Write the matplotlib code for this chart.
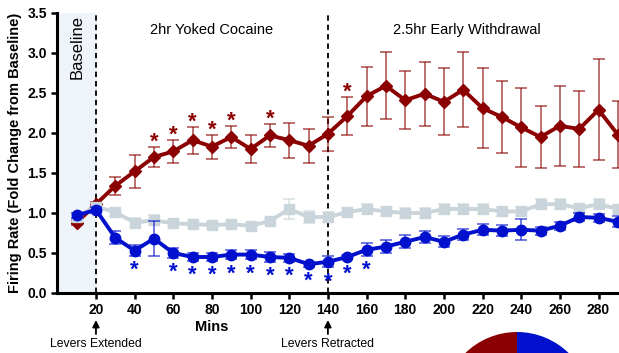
import numpy as np
import matplotlib
matplotlib.use("Agg")
import matplotlib.pyplot as plt
from matplotlib.patches import Wedge
from matplotlib.transforms import blended_transform_factory

plt.rcParams["font.family"] = ["Liberation Sans", "DejaVu Sans"]

# ---- data ----
mins = [10, 20, 30, 40, 50, 60, 70, 80, 90, 100, 110, 120, 130, 140, 150,
        160, 170, 180, 190, 200, 210, 220, 230, 240, 250, 260, 270, 280, 290]

red_mean = [0.88, 1.11, 1.34, 1.52, 1.70, 1.77, 1.91, 1.83, 1.95, 1.80, 1.97, 1.91, 1.84, 1.99, 2.21,
            2.46, 2.59, 2.41, 2.49, 2.39, 2.54, 2.31, 2.20, 2.07, 1.95, 2.09, 2.05, 2.29, 1.98]
red_sem = [0.03, 0.03, 0.11, 0.21, 0.13, 0.14, 0.17, 0.15, 0.14, 0.18, 0.14, 0.22, 0.21, 0.21, 0.24,
           0.37, 0.42, 0.36, 0.40, 0.42, 0.47, 0.50, 0.45, 0.49, 0.39, 0.50, 0.47, 0.63, 0.42]

grey_mean = [0.95, 1.08, 1.01, 0.88, 0.91, 0.87, 0.86, 0.85, 0.86, 0.84, 0.90, 1.05, 0.95, 0.95, 1.01,
             1.05, 1.02, 1.00, 1.00, 1.05, 1.05, 1.05, 1.02, 1.02, 1.11, 1.11, 1.06, 1.11, 1.05]
grey_sem = [0.03, 0.04, 0.05, 0.06, 0.06, 0.04, 0.04, 0.04, 0.04, 0.04, 0.04, 0.13, 0.08, 0.06, 0.05,
            0.06, 0.06, 0.06, 0.06, 0.06, 0.06, 0.06, 0.06, 0.06, 0.06, 0.06, 0.05, 0.06, 0.05]

blue_mean = [0.97, 1.04, 0.69, 0.53, 0.68, 0.50, 0.45, 0.45, 0.48, 0.48, 0.45, 0.44, 0.36, 0.39, 0.45,
             0.54, 0.58, 0.64, 0.70, 0.64, 0.73, 0.79, 0.78, 0.79, 0.78, 0.84, 0.95, 0.94, 0.89]
blue_sem = [0.03, 0.04, 0.08, 0.07, 0.22, 0.06, 0.05, 0.05, 0.06, 0.06, 0.06, 0.05, 0.03, 0.07, 0.03,
            0.08, 0.08, 0.08, 0.08, 0.07, 0.07, 0.07, 0.07, 0.13, 0.05, 0.05, 0.05, 0.05, 0.07]

red_sig = [50, 60, 70, 80, 90, 110, 150]
blue_sig = [40, 60, 70, 80, 90, 100, 110, 120, 130, 140, 150, 160]

RED = "#8b0000"
BLUE = "#0010cc"
GREY = "#c9d5da"

fig = plt.figure(figsize=(6.19, 3.53), dpi=100)
ax = fig.add_axes([57.3 / 619, 60 / 353, 1 - 57.3 / 619, 280 / 353])

ax.axvspan(0, 20, color="#eef4fa", zorder=0)
for xv in (20, 140):
    ax.axvline(xv, color="black", lw=1.3, ls=(0, (3, 2.2)), zorder=1)

series = [
    (red_mean, red_sem, RED, "D", 6.5),
    (grey_mean, grey_sem, GREY, "s", 6.5),
    (blue_mean, blue_sem, BLUE, "o", 7.5),
]
for i, (m, s, c, mk, ms) in enumerate(series):
    ax.errorbar(mins, m, yerr=s, fmt="none", ecolor=c, alpha=0.6,
                elinewidth=1.3, capsize=4, capthick=1.3, zorder=2 + i)
    ax.plot(mins, m, color=c, lw=2.8, marker=mk, ms=ms, zorder=3 + i)

# significance stars
for t in red_sig:
    k = mins.index(t)
    ax.text(t, red_mean[k] + red_sem[k] + 0.06, "*", color=RED, fontsize=16,
            fontweight="bold", ha="center", va="center")
for t in blue_sig:
    k = mins.index(t)
    ax.text(t, blue_mean[k] - blue_sem[k] - 0.18, "*", color=BLUE, fontsize=16,
            fontweight="bold", ha="center", va="center")

ax.text(10, 3.48, "Baseline", rotation=90, ha="center", va="top", fontsize=12)
ax.text(80, 3.29, "2hr Yoked Cocaine", ha="center", va="center", fontsize=10.5)
ax.text(212, 3.29, "2.5hr Early Withdrawal", ha="center", va="center", fontsize=10.5)

ax.set_xlim(0, 290.6)
ax.set_ylim(0, 3.5)
ax.set_xticks(np.arange(20, 290, 20))
ax.set_yticks(np.arange(0, 3.51, 0.5))
ax.set_yticklabels([f"{v:.1f}" for v in np.arange(0, 3.51, 0.5)])
for lab in ax.get_xticklabels() + ax.get_yticklabels():
    lab.set_fontweight("bold")
ax.tick_params(axis="both", labelsize=10, width=1.8, length=4.5, pad=3)
for sp in ("top", "right"):
    ax.spines[sp].set_visible(False)
for sp in ("left", "bottom"):
    ax.spines[sp].set_linewidth(2.2)

ax.set_ylabel("Firing Rate (Fold Change from Baseline)", fontsize=10.5,
              fontweight="bold", labelpad=4)

# labels below the axis
tr = blended_transform_factory(ax.transData, fig.transFigure)
ax.text(80, 26 / 353, "Mins", transform=tr, ha="center", va="center",
        fontsize=10.5, fontweight="bold")
for xv, lab in ((20, "Levers Extended"), (140, "Levers Retracted")):
    ax.annotate("", xy=(xv, 33 / 353), xytext=(xv, 19 / 353),
                xycoords=tr, textcoords=tr, annotation_clip=False,
                arrowprops=dict(arrowstyle="-|>", color="black", lw=1.3,
                                mutation_scale=10, shrinkA=0, shrinkB=0))
    ax.text(xv, 9 / 353, lab, transform=tr, ha="center", va="center", fontsize=8.8)

# half pie cut by the bottom edge
pax = fig.add_axes([0, 0, 1, 1], zorder=-1)
pax.set_xlim(0, 619)
pax.set_ylim(0, 353)
pax.axis("off")
pax.add_patch(Wedge((517, -53), 74, 90, 270, color=RED, lw=0))
pax.add_patch(Wedge((517, -53), 74, -90, 90, color=BLUE, lw=0))

fig.savefig("out.png", dpi=100)
